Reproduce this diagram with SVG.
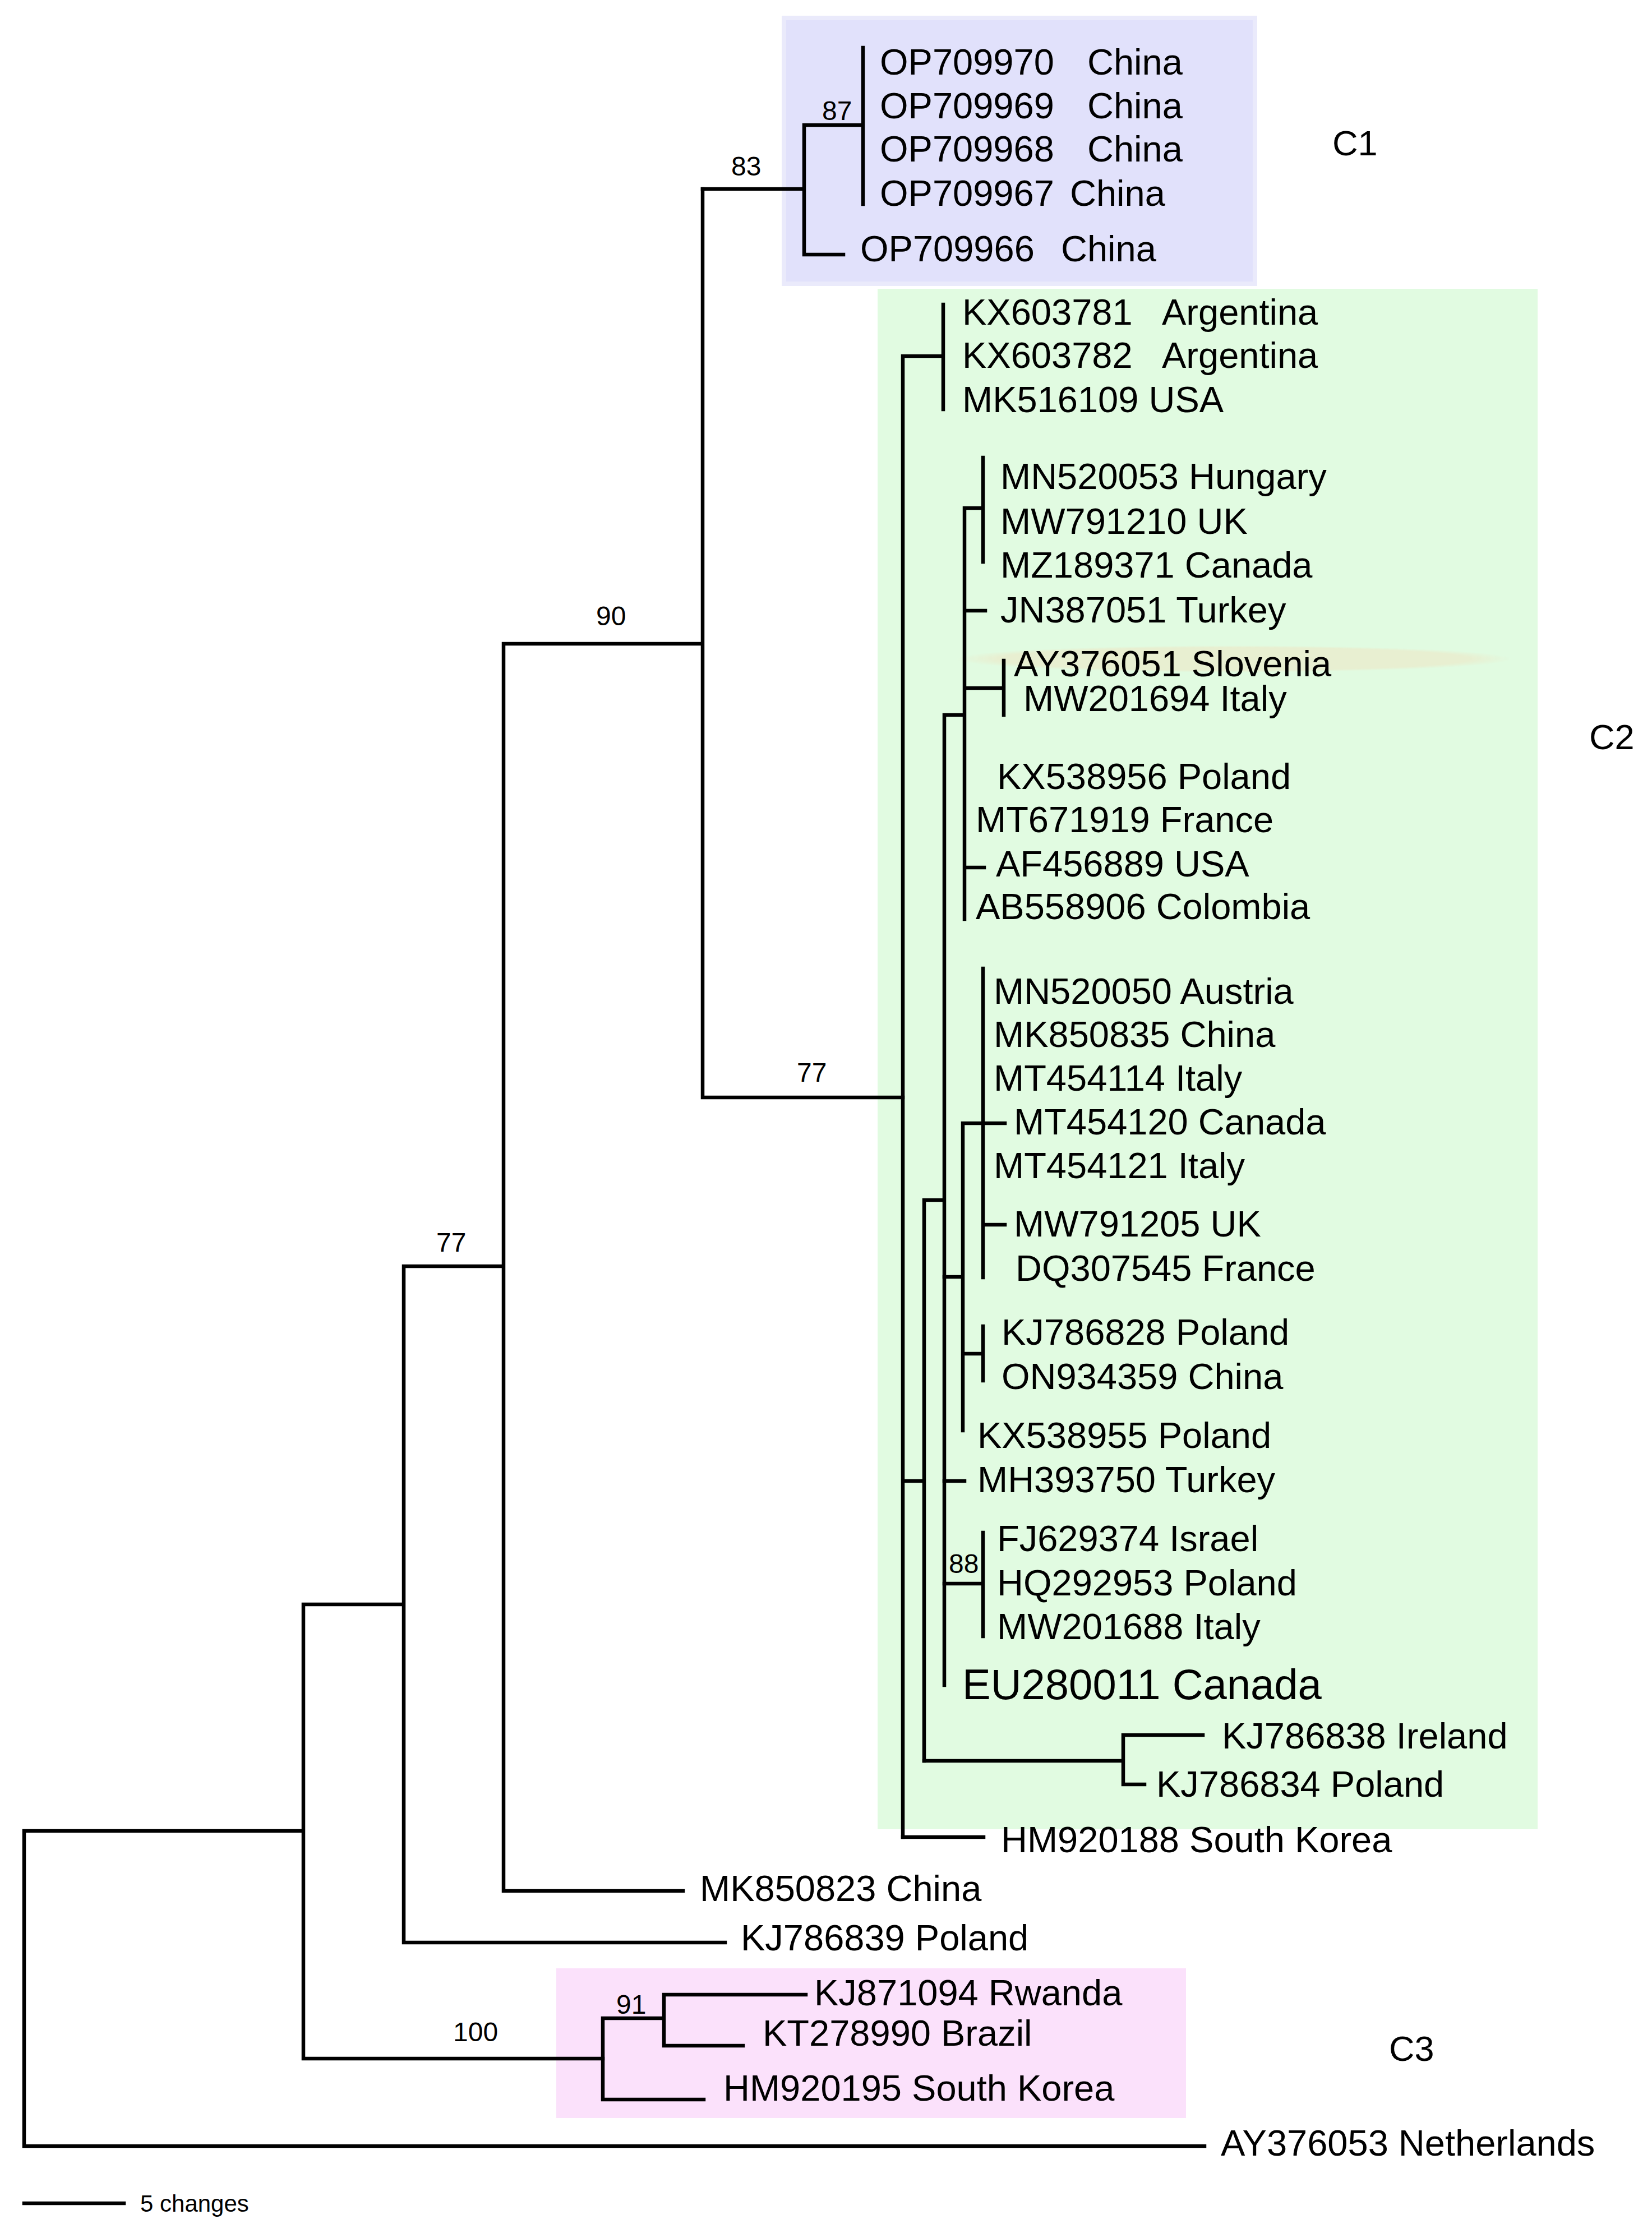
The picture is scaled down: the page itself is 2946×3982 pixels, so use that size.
<svg xmlns="http://www.w3.org/2000/svg" width="2946" height="3982" viewBox="0 0 2946 3982">
<style>
.t{font-family:"Liberation Sans",Arial,sans-serif;font-size:65px;fill:#000}
.big{font-size:76px}
.s{font-family:"Liberation Sans",Arial,sans-serif;font-size:48px;fill:#000}
.c{font-family:"Liberation Sans",Arial,sans-serif;font-size:63px;fill:#000}
.br{fill:none;stroke:#000;stroke-width:6.5;stroke-linecap:square}
</style>
<defs>
<radialGradient id="glow" cx="0.5" cy="0.5" r="0.5">
<stop offset="0" stop-color="#E8EFD1"/>
<stop offset="0.85" stop-color="#E8EFD1"/>
<stop offset="1" stop-color="#E1FBE1"/>
</radialGradient>
</defs>
<rect width="2946" height="3982" fill="#fff"/>
<g id="clade-C1-box"><rect x="1398" y="32" width="840" height="474" fill="#E1E1FB" stroke="#EAEAFB" stroke-width="8"/></g>
<g id="clade-C2-box"><rect x="1565" y="515" width="1177" height="2747" fill="#E1FBE1"/></g>
<g id="clade-C3-box"><rect x="992" y="3510" width="1123" height="267" fill="#FBE1FB"/></g>
<g id="highlight"><ellipse cx="2200" cy="1175" rx="495" ry="24" fill="url(#glow)"/></g>

<g id="connectors" class="br">
<path d="M1253 337H1434M1434 223V454M1434 223H1539M1539 85V364M1434 454H1504"/>
<path d="M1253 337V1957M898 1148H1253M1253 1957H1610M898 1148V3372M898 3372H1218M720 2258H898M720 2258V3464M720 3464H1293M541 2861H720M541 2861V3671M541 3671H1075M43 3265H541M43 3265V3827M43 3827H2148"/>
<path d="M1075 3599V3744M1075 3599H1184M1184 3557V3648M1184 3557H1437M1184 3648H1325M1075 3744H1255"/>
<path d="M1610 635V3276M1610 635H1682M1682 543V730M1610 2641H1648M1648 2140V3140M1648 2140H1684M1684 1275V3005M1684 1275H1720M1720 906V1639M1720 906H1753M1753 816V1002M1720 1089H1757M1720 1227H1790M1790 1178V1275M1720 1547H1755"/>
<path d="M1684 2277H1717M1717 2003V2551M1717 2003H1753M1753 1727V2278M1753 2003H1792M1753 2184H1792M1717 2414H1753M1753 2365V2462M1684 2641H1720M1684 2824H1753M1753 2733V2918"/>
<path d="M1648 3140H2003M2003 3094V3182M2003 3094H2145M2003 3182H2041M1610 3276H1754"/>
<path d="M43 3929H221"/>
</g>

<g id="support-values">
<text class="s" x="1304" y="313">83</text>
<text class="s" x="1466" y="214">87</text>
<text class="s" x="1063" y="1115">90</text>
<text class="s" x="1421" y="1929">77</text>
<text class="s" x="778" y="2232">77</text>
<text class="s" x="1692" y="2805">88</text>
<text class="s" x="808" y="3640">100</text>
<text class="s" x="1099" y="3591">91</text>
</g>

<g id="clade-labels">
<text class="c" x="2376" y="277">C1</text>
<text class="c" x="2834" y="1336">C2</text>
<text class="c" x="2477" y="3675">C3</text>
</g>

<g id="OP709970"><text class="t" x="1569" y="133">OP709970<tspan x="1939">China</tspan></text></g>
<g id="OP709969"><text class="t" x="1569" y="211">OP709969<tspan x="1939">China</tspan></text></g>
<g id="OP709968"><text class="t" x="1569" y="288">OP709968<tspan x="1939">China</tspan></text></g>
<g id="OP709967"><text class="t" x="1569" y="367">OP709967<tspan x="1908">China</tspan></text></g>
<g id="OP709966"><text class="t" x="1534" y="466">OP709966<tspan x="1892">China</tspan></text></g>

<g id="KX603781"><text class="t" x="1716" y="579">KX603781<tspan x="2072">Argentina</tspan></text></g>
<g id="KX603782"><text class="t" x="1716" y="656">KX603782<tspan x="2072">Argentina</tspan></text></g>
<g id="MK516109"><text class="t" x="1716" y="735">MK516109 USA</text></g>
<g id="MN520053"><text class="t" x="1784" y="872">MN520053 Hungary</text></g>
<g id="MW791210"><text class="t" x="1784" y="952">MW791210 UK</text></g>
<g id="MZ189371"><text class="t" x="1784" y="1030">MZ189371 Canada</text></g>
<g id="JN387051"><text class="t" x="1784" y="1110">JN387051 Turkey</text></g>
<g id="AY376051"><text class="t" x="1808" y="1206">AY376051 Slovenia</text></g>
<g id="MW201694"><text class="t" x="1825" y="1268">MW201694 Italy</text></g>
<g id="KX538956"><text class="t" x="1778" y="1407">KX538956 Poland</text></g>
<g id="MT671919"><text class="t" x="1740" y="1484">MT671919 France</text></g>
<g id="AF456889"><text class="t" x="1776" y="1563">AF456889 USA</text></g>
<g id="AB558906"><text class="t" x="1740" y="1639">AB558906 Colombia</text></g>
<g id="MN520050"><text class="t" x="1772" y="1790">MN520050 Austria</text></g>
<g id="MK850835"><text class="t" x="1772" y="1867">MK850835 China</text></g>
<g id="MT454114"><text class="t" x="1772" y="1945">MT454114 Italy</text></g>
<g id="MT454120"><text class="t" x="1808" y="2023">MT454120 Canada</text></g>
<g id="MT454121"><text class="t" x="1772" y="2101">MT454121 Italy</text></g>
<g id="MW791205"><text class="t" x="1808" y="2205">MW791205 UK</text></g>
<g id="DQ307545"><text class="t" x="1811" y="2284">DQ307545 France</text></g>
<g id="KJ786828"><text class="t" x="1786" y="2398">KJ786828 Poland</text></g>
<g id="ON934359"><text class="t" x="1786" y="2477">ON934359 China</text></g>
<g id="KX538955"><text class="t" x="1743" y="2582">KX538955 Poland</text></g>
<g id="MH393750"><text class="t" x="1743" y="2661">MH393750 Turkey</text></g>
<g id="FJ629374"><text class="t" x="1778" y="2766">FJ629374 Israel</text></g>
<g id="HQ292953"><text class="t" x="1778" y="2845">HQ292953 Poland</text></g>
<g id="MW201688"><text class="t" x="1778" y="2923">MW201688 Italy</text></g>
<g id="EU280011"><text class="t big" x="1716" y="3030">EU280011 Canada</text></g>
<g id="KJ786838"><text class="t" x="2179" y="3118">KJ786838 Ireland</text></g>
<g id="KJ786834"><text class="t" x="2062" y="3204">KJ786834 Poland</text></g>
<g id="HM920188"><text class="t" x="1785" y="3303">HM920188 South Korea</text></g>
<g id="MK850823"><text class="t" x="1248" y="3390">MK850823 China</text></g>
<g id="KJ786839"><text class="t" x="1321" y="3478">KJ786839 Poland</text></g>
<g id="KJ871094"><text class="t" x="1452" y="3576">KJ871094 Rwanda</text></g>
<g id="KT278990"><text class="t" x="1360" y="3648">KT278990 Brazil</text></g>
<g id="HM920195"><text class="t" x="1290" y="3746">HM920195 South Korea</text></g>
<g id="AY376053"><text class="t" x="2177" y="3844">AY376053 Netherlands</text></g>

<g id="scale-bar"><text class="s" x="250" y="3944" style="font-size:42px">5 changes</text></g>
</svg>
